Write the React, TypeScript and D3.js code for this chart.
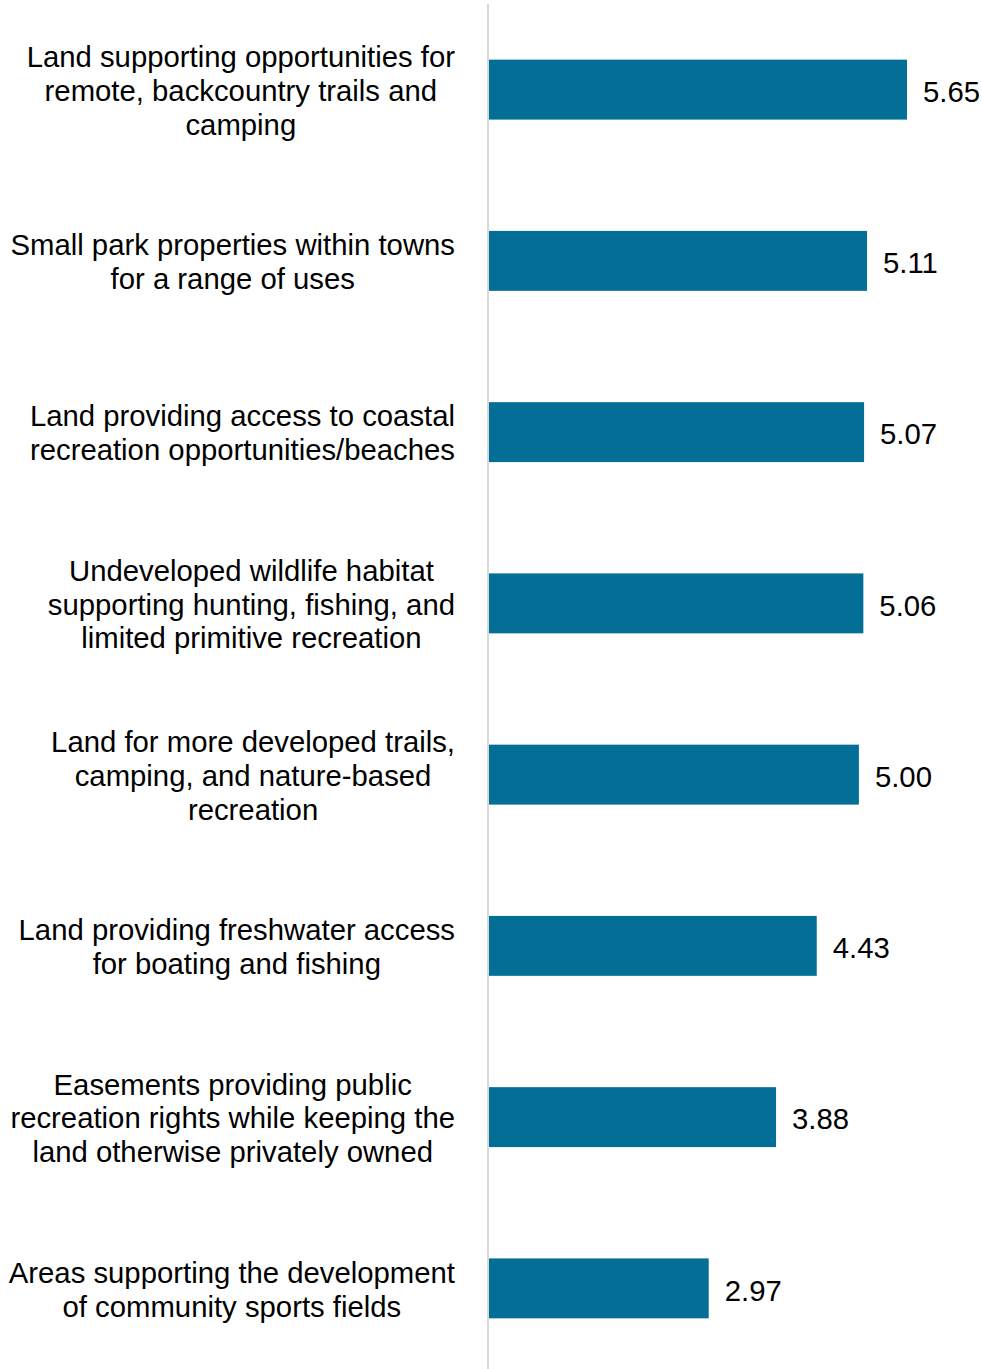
import { useEffect, useRef } from "react";
import * as d3 from "d3";

const labels: string[][] = [
  ["Land supporting opportunities for", "remote, backcountry trails and", "camping"],
  ["Small park properties within towns", "for a range of uses"],
  ["Land providing access to coastal", "recreation opportunities/beaches"],
  ["Undeveloped wildlife habitat", "supporting hunting, fishing, and", "limited primitive recreation"],
  ["Land for more developed trails,", "camping, and nature-based", "recreation"],
  ["Land providing freshwater access", "for boating and fishing"],
  ["Easements providing public", "recreation rights while keeping the", "land otherwise privately owned"],
  ["Areas supporting the development", "of community sports fields"],
];
const values = [5.65, 5.11, 5.07, 5.06, 5.0, 4.43, 3.88, 2.97];

export default function App() {
  const ref = useRef<SVGSVGElement>(null);

  useEffect(() => {
    if (!ref.current) return;
    const el = ref.current;
    const width = 982;
    const height = 1369;
    const axisX = 489;
    const font = "'Liberation Sans', Arial, sans-serif";
    const fontSize = "29.3px";

    d3.select(el).selectAll("*").remove();
    const svg = d3.select(el).attr("width", width).attr("height", height);

    const keys = labels.map((_, i) => String(i));
    const y = d3.scaleBand().domain(keys).range([4, 1374]).paddingInner(0.65).paddingOuter(0.325);
    const x = d3.scaleLinear().domain([0, 5.65]).range([axisX, 907]);

    // bars
    svg
      .selectAll(".bar")
      .data(values)
      .join("rect")
      .attr("class", "bar")
      .attr("x", x(0))
      .attr("y", (_, i) => y(keys[i])!)
      .attr("width", (d) => x(d) - x(0))
      .attr("height", y.bandwidth())
      .attr("fill", "#036f97");

    // axis line
    svg
      .append("line")
      .attr("x1", axisX - 1)
      .attr("x2", axisX - 1)
      .attr("y1", 4)
      .attr("y2", height)
      .attr("stroke", "#d9d9d9")
      .attr("stroke-width", 2);

    // value labels
    svg
      .selectAll(".val")
      .data(values)
      .join("text")
      .attr("class", "val")
      .attr("x", (d) => x(d) + 16)
      .attr("y", (_, i) => y(keys[i])! + y.bandwidth() / 2 + 2)
      .attr("dy", "0.35em")
      .style("font-family", font)
      .style("font-size", fontSize)
      .style("fill", "#000")
      .text((d) => d.toFixed(2));

    // category labels: lines centred within a block right-aligned at 455
    const lineH = 33.8;
    labels.forEach((lines, i) => {
      const cy = y(keys[i])! + y.bandwidth() / 2 + 1;
      const g = svg.append("g");
      const texts = lines.map((line, j) =>
        g
          .append("text")
          .attr("x", 0)
          .attr("y", cy + (j - (lines.length - 1) / 2) * lineH)
          .attr("dy", "0.35em")
          .attr("text-anchor", "middle")
          .style("font-family", font)
          .style("font-size", fontSize)
          .style("fill", "#000")
          .text(line)
      );
      const maxW = d3.max(texts, (t) => (t.node() as SVGTextElement).getComputedTextLength()) || 0;
      g.attr("transform", `translate(${455 - maxW / 2},0)`);
    });
  }, []);

  return (
    <svg
      ref={ref}
      style={{ position: "absolute", top: 0, left: 0, display: "block", background: "#fff" }}
    />
  );
}
